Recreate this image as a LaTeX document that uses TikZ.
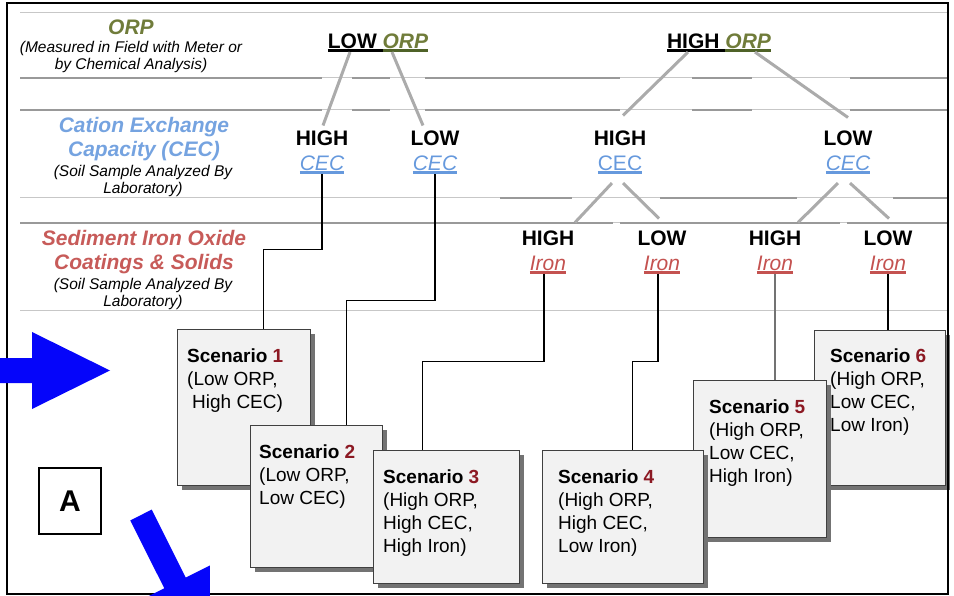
\documentclass[tikz,border=0pt]{standalone}
\usepackage{fontspec}
\setmainfont{Liberation Sans}
\usepackage{xcolor}
\usetikzlibrary{calc,shadows}

\definecolor{orpgreen}{RGB}{112,124,58}
\definecolor{orpline}{RGB}{79,98,40}
\definecolor{cecblue}{RGB}{102,153,221}
\definecolor{ironred}{RGB}{196,82,80}
\definecolor{scennum}{RGB}{140,25,35}
\definecolor{boxfill}{RGB}{242,242,242}
\definecolor{boxedge}{RGB}{64,64,64}
\definecolor{arrowblue}{RGB}{5,5,250}

% underline with a bar of its own colour
\newcommand{\barred}[2][black]{\setbox0=\hbox{#2}\rlap{\color{#1}\rule[-3.5pt]{\wd0}{2.5pt}}\box0}

\tikzstyle{lvltitle} = [inner sep=0pt, align=center, anchor=north, font=\fontsize{21}{24}\selectfont\bfseries\itshape]
\tikzstyle{lvlnote} = [inner sep=0pt, align=center, anchor=north, font=\fontsize{15.5}{17}\selectfont\itshape]
\tikzstyle{choice} = [inner sep=0pt, align=center, anchor=north, font=\fontsize{21}{25}\selectfont\bfseries]
\tikzstyle{branch} = [draw=black!33, line width=3pt]
\tikzstyle{lead} = [draw=black, line width=1.1pt]
\tikzstyle{scenbox} = [draw=boxedge, fill=boxfill, line width=1.1pt, anchor=north west, inner sep=0pt,
    drop shadow={shadow xshift=4pt, shadow yshift=-4pt, fill=black!55, opacity=1}]
\tikzstyle{scentext} = [inner sep=0pt, align=left, anchor=north west, font=\fontsize{19}{23}\selectfont]
\tikzstyle{rulethin} = [draw=black!22, line width=1pt]
\tikzstyle{rulethick} = [draw=black!40, line width=2.5pt]

\begin{document}
\begin{tikzpicture}[x=1pt, y=-1pt]
\useasboundingbox (0,0) rectangle (954,596);

%==============================================
%Rules between the levels
%==============================================
\draw[rulethin] (20,13) -- (947,13);
\foreach \y in {78,110} {
    \draw[rulethin] (20,\y) -- (947,\y);
    \foreach \a/\b in {20/322,352/390,425/620,692/752,850/947}
        \draw[rulethick] (\a,\y) -- (\b,\y);
}
\draw[rulethin] (20,198) -- (947,198);
\foreach \a/\b in {500/572,660/797,893/947}
    \draw[rulethick] (\a,198) -- (\b,198);
\draw[rulethin] (20,223) -- (947,223);
\foreach \a/\b in {20/613,620/840,847/947}
    \draw[rulethick] (\a,223) -- (\b,223);
\draw[rulethin] (20,311) -- (947,311);

%Level names==============================================
\node[lvltitle, text=orpgreen] (orpTitle) at (131,19.5) {ORP};
\node[lvlnote] (orpNote) at (131,41.5) {(Measured in Field with Meter or\\by Chemical Analysis)};
\node[lvltitle, text=cecblue!90!white] (cecTitle) at (144,117.5) {Cation Exchange\\Capacity (CEC)};
\node[lvlnote] (cecNote) at (143,165.4) {(Soil Sample Analyzed By\\Laboratory)};
\node[lvltitle, text=ironred!95!white] (ironTitle) at (144,230.5) {Sediment Iron Oxide\\Coatings \& Solids};
\node[lvlnote] (ironNote) at (143,278.4) {(Soil Sample Analyzed By\\Laboratory)};

%Level 1: ORP==============================================
\node[choice] (orpLow) at (378,33.5) {\barred{LOW }\barred[orpline]{\textcolor{orpgreen}{\itshape ORP}}};
\node[choice] (orpHigh) at (719,33.5) {\barred{HIGH }\barred[orpline]{\textcolor{orpgreen}{\itshape ORP}}};

%Level 2: CEC==============================================
\node[choice] (cecLH) at (322,130.5) {HIGH\\\barred[cecblue]{\color{cecblue}\mdseries\itshape CEC}};
\node[choice] (cecLL) at (435,130.5) {LOW\\\barred[cecblue]{\color{cecblue}\mdseries\itshape CEC}};
\node[choice] (cecHH) at (620,130.5) {HIGH\\\barred[cecblue]{\color{cecblue}\mdseries CEC}};
\node[choice] (cecHL) at (848,130.5) {LOW\\\barred[cecblue]{\color{cecblue}\mdseries\itshape CEC}};

%Level 3: Iron==============================================
\node[choice] (ironHH) at (548,230.5) {HIGH\\\barred[ironred]{\color{ironred}\mdseries\itshape Iron}};
\node[choice] (ironHL) at (662,230.5) {LOW\\\barred[ironred]{\color{ironred}\mdseries\itshape Iron}};
\node[choice] (ironLH) at (775,230.5) {HIGH\\\barred[ironred]{\color{ironred}\mdseries\itshape Iron}};
\node[choice] (ironLL) at (888,230.5) {LOW\\\barred[ironred]{\color{ironred}\mdseries\itshape Iron}};

%Branches==============================================
\draw[branch] ($(orpLow.south)+(-28,0)$) -- ($(cecLH.north)+(1,-5)$);
\draw[branch] ($(orpLow.south)+(14,0)$) -- ($(cecLL.north)+(-12,-5)$);
\draw[branch] ($(orpHigh.south)+(-31,0)$) -- ($(cecHH.north)+(3,-15)$);
\draw[branch] ($(orpHigh.south)+(36,0)$) -- ($(cecHL.north)+(0,-13)$);
\draw[branch] ($(cecHH.south)+(-8,9)$) -- ($(ironHH.north)+(27,-8)$);
\draw[branch] ($(cecHH.south)+(3,9)$) -- ($(ironHL.north)+(-3,-12)$);
\draw[branch] ($(cecHL.south)+(-10,9)$) -- ($(ironLH.north)+(23,-8)$);
\draw[branch] ($(cecHL.south)+(2,9)$) -- ($(ironLL.north)+(1,-12)$);

%Scenario boxes==============================================
\node[scenbox, minimum width=133pt, minimum height=156pt] (s1) at (177,329) {};
\node[scentext] (t1) at ([shift={(10,20)}]s1.north west) {\textbf{Scenario \textcolor{scennum}{1}}\\(Low ORP,\\\hspace*{5pt}High CEC)};
\node[scenbox, minimum width=132pt, minimum height=142pt] (s2) at (250,425) {};
\node[scentext] (t2) at ([shift={(9,20)}]s2.north west) {\textbf{Scenario \textcolor{scennum}{2}}\\(Low ORP,\\Low CEC)};
\node[scenbox, minimum width=146pt, minimum height=133pt] (s3) at (373,450) {};
\node[scentext] (t3) at ([shift={(10,20)}]s3.north west) {\textbf{Scenario \textcolor{scennum}{3}}\\(High ORP,\\High CEC,\\High Iron)};
\node[scenbox, minimum width=131pt, minimum height=155pt] (s6) at (814,330) {};
\node[scentext] (t6) at ([shift={(16,19)}]s6.north west) {\textbf{Scenario \textcolor{scennum}{6}}\\(High ORP,\\Low CEC,\\Low Iron)};
\node[scenbox, minimum width=133pt, minimum height=157pt] (s5) at (693,380) {};
\node[scentext] (t5) at ([shift={(16,20)}]s5.north west) {\textbf{Scenario \textcolor{scennum}{5}}\\(High ORP,\\Low CEC,\\High Iron)};
\node[scenbox, minimum width=161pt, minimum height=133pt] (s4) at (542,450) {};
\node[scentext] (t4) at ([shift={(16,20)}]s4.north west) {\textbf{Scenario \textcolor{scennum}{4}}\\(High ORP,\\High CEC,\\Low Iron)};

%Leads to the boxes==============================================
\draw[lead] (cecLH.south) -- ++(0,75) -| ([xshift=19pt]s1.north);
\draw[lead] (cecLL.south) -- ++(0,126) -| ([xshift=30pt]s2.north);
\draw[lead] ([xshift=-4pt]ironHH.south) -- ++(0,87) -| ([xshift=-24pt]s3.north);
\draw[lead] ([xshift=-4pt]ironHL.south) -- ++(0,87) -| ([xshift=9pt]s4.north);
\draw[lead, draw=black!55, line width=1.5pt] (ironLH.south) -- (ironLH.south |- s5.north);
\draw[lead] (ironLL.south) -- (ironLL.south |- s6.north);

%Frame and panel letter==============================================
\draw[line width=2pt] (7,3) rectangle (948,594);
\node[draw, line width=1.5pt, minimum width=62pt, minimum height=66pt, inner sep=0pt,
    font=\fontsize{30}{30}\selectfont\bfseries] (panel) at (70,501) {A};

%Blue arrows==============================================
\begin{scope}
\clip (0,0) rectangle (954,596);
\fill[arrowblue] (-20,358) -- (32,358) -- (32,332) -- (110,370.5) -- (32,409) -- (32,383) -- (-20,383) -- cycle;
\fill[arrowblue, shift={(141,515)}, rotate=-63.4] (0,-12) -- (76,-12) -- (76,-39) -- (154,0) -- (76,39) -- (76,12) -- (0,12) -- cycle;
\end{scope}
\end{tikzpicture}
\end{document}
